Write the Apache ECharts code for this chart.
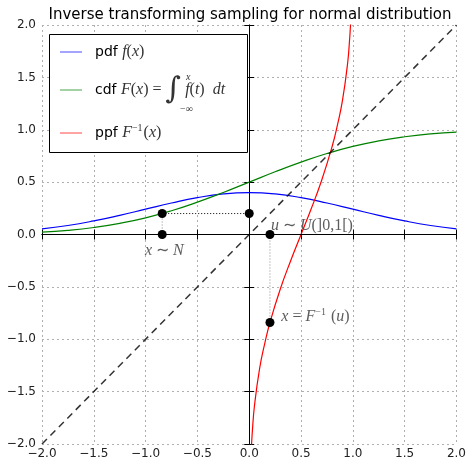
<!DOCTYPE html>
<html>
<head>
<meta charset="utf-8">
<script src="https://cdn.jsdelivr.net/npm/echarts@6/dist/echarts.min.js"></script>
<style>
  html, body { margin: 0; padding: 0; background: #fff; }
  #main { width: 469px; height: 460px; }
</style>
</head>
<body>
<div id="main"></div>
<script>
// values
const xs = [-2, -1.75, -1.5, -1.25, -1, -0.75, -0.5, -0.25, 0, 0.25, 0.5, 0.75, 1, 1.25, 1.5, 1.75, 2];
const pdfVals = [0.054, 0.086, 0.130, 0.183, 0.242, 0.301, 0.352, 0.387, 0.399, 0.387, 0.352, 0.301, 0.242, 0.183, 0.130, 0.086, 0.054];
const cdfVals = [0.023, 0.040, 0.067, 0.106, 0.159, 0.227, 0.309, 0.401, 0.500, 0.599, 0.691, 0.773, 0.841, 0.894, 0.933, 0.960, 0.977];
const ppfX = [0.015, 0.02, 0.025, 0.03, 0.05, 0.1, 0.15, 0.2, 0.3, 0.4, 0.5, 0.6, 0.7, 0.8, 0.85, 0.9, 0.95, 0.97, 0.975, 0.98, 0.985];
const ppfY = [-2.17, -2.05, -1.96, -1.88, -1.64, -1.28, -1.04, -0.84, -0.52, -0.25, 0, 0.25, 0.52, 0.84, 1.04, 1.28, 1.64, 1.88, 1.96, 2.05, 2.17];
const diagonal = [[-2, -2], [2, 2]];
const sampleX = -0.84;   // x ~ N
const sampleU = 0.2;     // u ~ U
const dots = [[sampleX, 0], [sampleX, sampleU], [0, sampleU], [sampleU, 0], [sampleU, sampleX]];
const legendNames = ['pdf', 'cdf', 'ppf'];
const legendColors = ['#0000ff', '#008000', '#ff0000'];

const minus = v => String(v.toFixed(1)).replace('-', '\u2212');

const chart = echarts.init(document.getElementById('main'));

const serif = 'Liberation Serif';
const mathRich = {
  t: { fontFamily: 'DejaVu Sans', fontSize: 14, fill: '#000', color: '#000' },
  m: { fontFamily: serif, fontStyle: 'italic', fontSize: 16, fill: '#333', color: '#333' },
  r: { fontFamily: serif, fontSize: 16, fill: '#333', color: '#333' },
  int: { fontFamily: 'DejaVu Serif', fontSize: 30, fill: '#333', color: '#333', lineHeight: 36 },
  sup: { fontFamily: serif, fontSize: 10, fill: '#333', color: '#333', padding: [0, 1, 9, 0] }
};

// legend drawn by hand, matplotlib style box
const legendRows = [52, 90, 133];
const legendTexts = [
  '{t|pdf }{m|f}{r|(}{m|x}{r|)}',
  '{t|cdf }{m|F}{r|(}{m|x}{r|) = }{int|\u222b}{m| f}{r|(}{m|t}{r|)  }{m|dt}',
  '{t|ppf }{m|F}{sup|\u22121}{r|(}{m|x}{r|)}'
];
const legendGraphic = [
  { type: 'rect', shape: { x: 49.5, y: 34.5, width: 198, height: 118 },
    style: { fill: '#fff', stroke: '#000', lineWidth: 1 }, z: 10 }
];
legendNames.forEach((n, i) => {
  legendGraphic.push({ type: 'line', shape: { x1: 60, y1: legendRows[i], x2: 82, y2: legendRows[i] },
    style: { stroke: legendColors[i], lineWidth: 1.2, opacity: 0.6 }, z: 11 });
  legendGraphic.push({ type: 'text', x: 95, y: legendRows[i],
    style: { text: legendTexts[i], rich: mathRich, verticalAlign: 'middle' }, z: 11 });
});
legendGraphic.push({ type: 'text', x: 186, y: 72, z: 11,
  style: { text: 'x', fontFamily: serif, fontStyle: 'italic', fontSize: 10, fill: '#333' } });
legendGraphic.push({ type: 'text', x: 180, y: 104, z: 11,
  style: { text: '\u2212\u221e', fontFamily: serif, fontSize: 10, fill: '#333' } });

const option = {
  animation: false,
  title: {
    text: 'Inverse transforming sampling for normal distribution',
    left: 245, top: 3, textAlign: 'center',
    textStyle: { fontFamily: 'DejaVu Sans', fontSize: 15, fontWeight: 'normal', color: '#000' }
  },
  grid: { left: 42, top: 25, width: 418, height: 420 },
  graphic: legendGraphic,
  xAxis: [
    { type: 'value', min: -2, max: 2, interval: 0.5,
      axisLine: { lineStyle: { color: '#000' } },
      axisTick: { inside: true, length: 5, lineStyle: { color: '#000' } },
      axisLabel: { formatter: minus, margin: 4, fontFamily: 'DejaVu Sans', fontSize: 12, color: '#222' },
      splitLine: { lineStyle: { color: '#b0b0b0', type: [2, 3] } } },
    { type: 'value', position: 'top', min: -2, max: 2, interval: 0.5,
      axisLine: { show: true, lineStyle: { color: '#000' } },
      axisTick: { inside: true, length: 5, lineStyle: { color: '#000' } },
      axisLabel: { show: false }, splitLine: { show: false } }
  ],
  yAxis: [
    { type: 'value', min: -2, max: 2, interval: 0.5,
      axisLine: { show: true, lineStyle: { color: '#666' } },
      axisTick: { show: true, inside: true, length: 5, lineStyle: { color: '#000' } },
      axisLabel: { formatter: minus, margin: 6, fontFamily: 'DejaVu Sans', fontSize: 12, color: '#222' },
      splitLine: { lineStyle: { color: '#b0b0b0', type: [2, 3] } } },
    { type: 'value', position: 'right', min: -2, max: 2, interval: 0.5,
      axisLine: { show: true, lineStyle: { color: '#000' } },
      axisTick: { show: true, inside: true, length: 5, lineStyle: { color: '#000' } },
      axisLabel: { show: false }, splitLine: { show: false } }
  ],
  series: [
    { name: 'pdf', type: 'line', smooth: true, symbol: 'none', color: legendColors[0],
      lineStyle: { width: 1.2 }, data: xs.map((x, i) => [x, pdfVals[i]]),
      markLine: { silent: true, symbol: 'none', label: { show: false },
        lineStyle: { color: '#000', type: 'solid', width: 1 },
        data: [{ xAxis: 0 }, { yAxis: 0 }] } },
    { name: 'cdf', type: 'line', smooth: true, symbol: 'none', color: legendColors[1],
      lineStyle: { width: 1.2 }, data: xs.map((x, i) => [x, cdfVals[i]]) },
    { name: 'ppf', type: 'line', smooth: true, symbol: 'none', color: legendColors[2],
      lineStyle: { width: 1.2 }, data: ppfX.map((x, i) => [x, ppfY[i]]) },
    { name: 'diag', type: 'line', symbol: 'none', color: '#000',
      lineStyle: { width: 1.5, type: [7, 5], opacity: 0.8 }, data: diagonal },
    { name: 'h', type: 'line', symbol: 'none', color: '#000',
      lineStyle: { width: 1, type: [1, 2] }, data: [dots[1], dots[2]] },
    { name: 'v1', type: 'line', symbol: 'none', color: '#888',
      lineStyle: { width: 1, type: [1, 2] }, data: [dots[0], dots[1]] },
    { name: 'v2', type: 'line', symbol: 'none', color: '#888',
      lineStyle: { width: 1, type: [1, 2] }, data: [dots[3], dots[4]] },
    { name: 'samples', type: 'scatter', symbolSize: 9, itemStyle: { color: '#000', opacity: 1 }, data: dots, z: 5 },
    { name: 'notes', type: 'scatter', symbolSize: 0, silent: true,
      label: { show: true, rich: mathRich },
      data: [
        { value: [-0.82, -0.16], label: { position: 'inside', formatter: '{m|x}{r| \u223c }{m|N}' } },
        { value: [0.21, 0.08], label: { position: 'right', distance: 0, formatter: '{m|u}{r| \u223c }{m|U}{r|(]0,1[)}' } },
        { value: [0.31, -0.79], label: { position: 'right', distance: 0, formatter: '{m|x}{r| = }{m|F}{sup|\u22121}{r| (}{m|u}{r|)}' } }
      ] }
  ]
};

chart.setOption(option);
</script>
</body>
</html>
